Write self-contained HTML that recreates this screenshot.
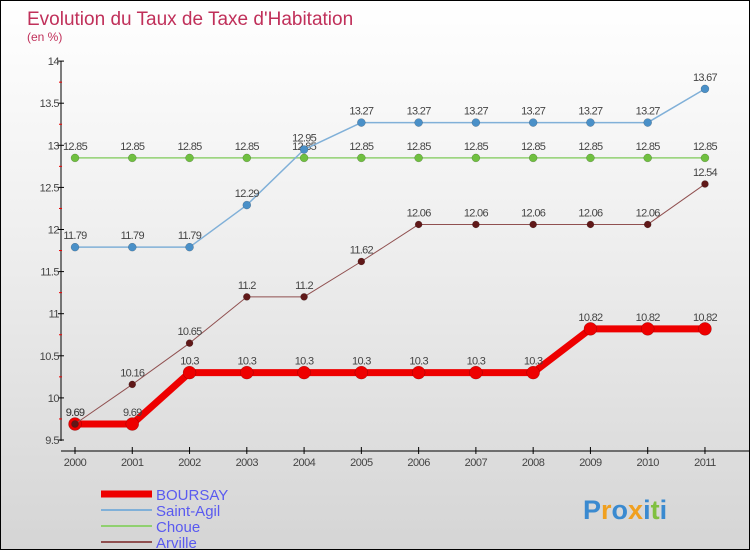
<!DOCTYPE html>
<html><head><meta charset="utf-8"><style>
body{margin:0}
#c{width:748px;height:548px;border:1px solid #000;background:linear-gradient(#fff,#f0f0f0 40%,#d5d5d5);position:relative;font-family:"Liberation Sans",sans-serif;overflow:hidden}
</style></head><body>
<div id="c">
<svg id="s" width="748" height="548" xmlns="http://www.w3.org/2000/svg"></svg>
</div>
<script>
const years=[2000,2001,2002,2003,2004,2005,2006,2007,2008,2009,2010,2011];
const boursay=[9.69,9.69,10.3,10.3,10.3,10.3,10.3,10.3,10.3,10.82,10.82,10.82];
const saintAgil=[11.79,11.79,11.79,12.29,12.95,13.27,13.27,13.27,13.27,13.27,13.27,13.67];
const choue=[12.85,12.85,12.85,12.85,12.85,12.85,12.85,12.85,12.85,12.85,12.85,12.85];
const arville=[9.69,10.16,10.65,11.2,11.2,11.62,12.06,12.06,12.06,12.06,12.06,12.54];
const yTicks=[9.5,10,10.5,11,11.5,12,12.5,13,13.5,14];
const labels=["BOURSAY","Saint-Agil","Choue","Arville"];
const NS="http://www.w3.org/2000/svg";
const s=document.getElementById('s');
const X=i=>74+i*57.27, Y=v=>439-(v-9.5)*84.2;
function el(t,a,p){const e=document.createElementNS(NS,t);for(const k in a)e.setAttribute(k,a[k]);(p||s).appendChild(e);return e;}
function tx(x,y,str,a){const e=el('text',Object.assign({x:x,y:y},a));e.textContent=str;return e;}
let t=tx(26,24,"Evolution du Taux de Taxe d'Habitation",{'font-size':19,fill:'#c0305a'});


t=tx(26,40,"(en %)",{'font-size':12,fill:'#c0305a'});


let ax=el('line',{x1:60,y1:60,x2:60,y2:440,stroke:'#000','stroke-width':1});


yTicks.forEach((v,i)=>{
 el('line',{x1:57,x2:63,y1:Y(v),y2:Y(v),stroke:'#000'});
 if(i<yTicks.length-1) el('line',{x1:58,x2:61,y1:Y(v+0.25),y2:Y(v+0.25),stroke:'#e00'});
 const l=tx(58,Y(v)+4,String(v),{'font-size':11,fill:'#444','text-anchor':'end','letter-spacing':'-0.5'});
 
 
});
ax=el('line',{x1:60,y1:450,x2:748,y2:450,stroke:'#000'});


years.forEach((y,i)=>{
 el('line',{x1:X(i),x2:X(i),y1:446,y2:453,stroke:'#000'});
 const l=tx(X(i),465,String(y),{'font-size':11,fill:'#444','text-anchor':'middle','letter-spacing':'-0.5'});
 
 
});
function series(vals,color,w,r,name,fillPt){
 const g=el('g',{});
 
 
 el('polyline',{points:vals.map((v,i)=>X(i)+','+Y(v)).join(' '),fill:'none',stroke:color,'stroke-width':w,'stroke-linejoin':'round'},g);
 vals.forEach((v,i)=>{
  const c=el('circle',{cx:X(i),cy:Y(v),r:r,fill:fillPt,stroke:'rgba(0,0,0,0.3)','stroke-width':0.5},g);
  
  
  const l=tx(X(i),Y(v)-8,String(v),{'font-size':11,fill:'#444','text-anchor':'middle','letter-spacing':'-0.7'},g);
  
  
 });
}
series(choue,'#90d070',1.5,4,'choue','#70c040');
series(saintAgil,'#80b0d8',1.5,4,'saint-agil','#4a90c8');
series(boursay,'#ee0000',7,6.5,'boursay','#ee0000');
series(arville,'#905050',1,3.5,'arville','#601818');
const lc=['#ee0000','#80b0d8','#90d070','#905050'],lw=[7,2,2,2];
labels.forEach((n,i)=>{
 const y=493+i*16;
 const g=el('g',{});
 
 
 el('line',{x1:100,x2:151,y1:y,y2:y,stroke:lc[i],'stroke-width':lw[i]},g);
 tx(155,y+6,n,{'font-size':15,fill:'#5a5af0'},g);
});
const lg=tx(582,518,"",{'font-size':27,'font-weight':'bold'});


[['P','#3a8ad0'],['r','#f0a020'],['o','#3a8ad0'],['x','#f0a020'],['i','#3a8ad0'],['t','#80c040'],['i','#3a8ad0']].forEach(([c,f])=>{const sp=el('tspan',{fill:f},lg);sp.textContent=c;});
</script>
</body></html>
